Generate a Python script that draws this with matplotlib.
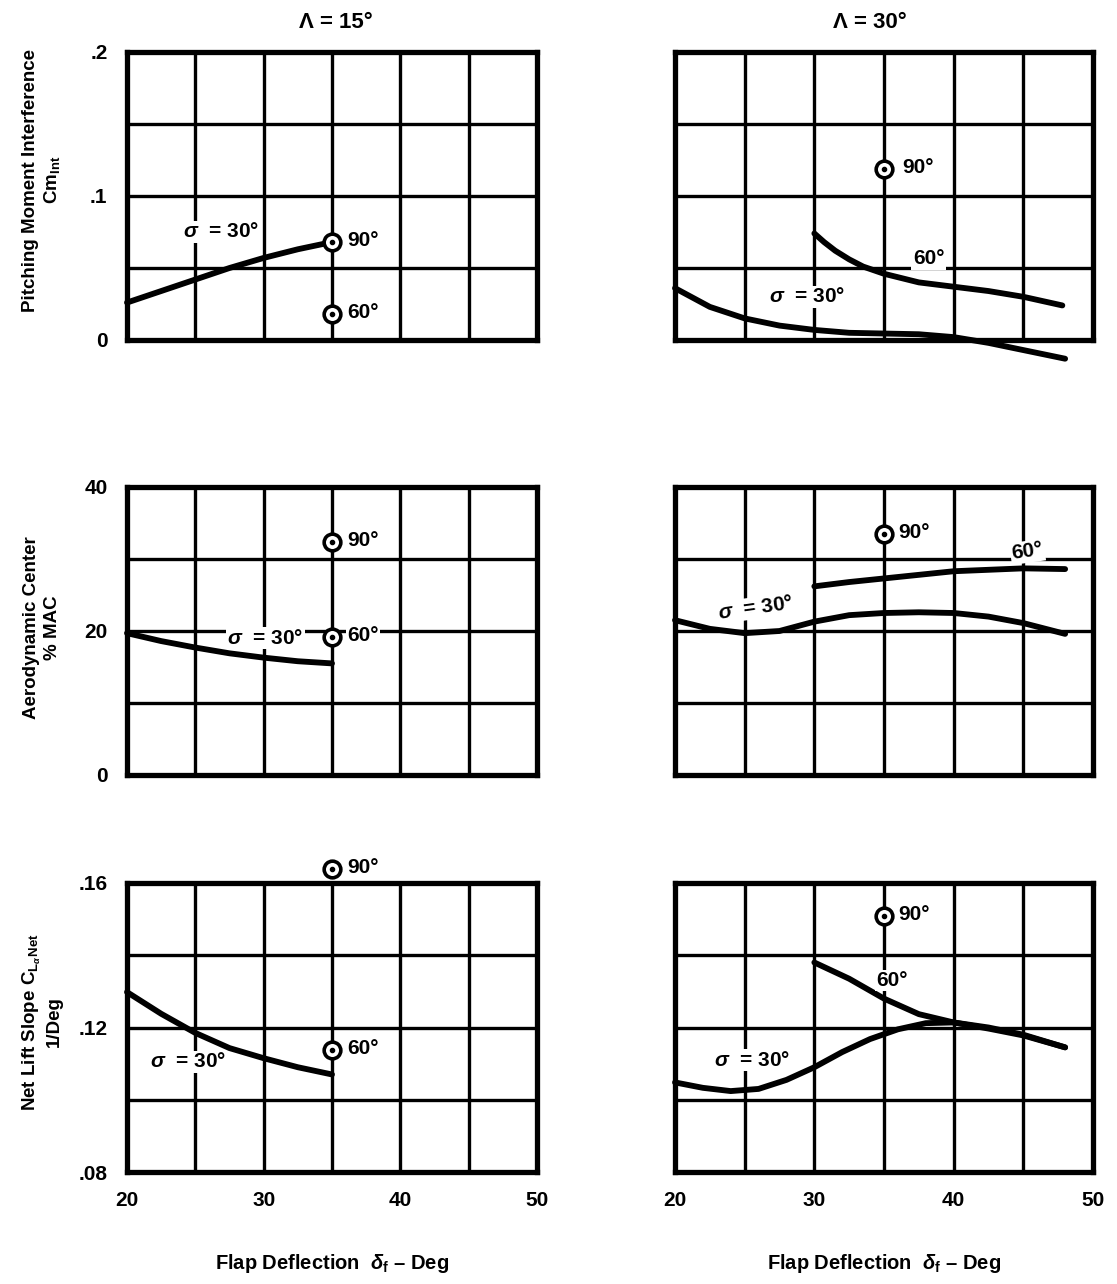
import matplotlib
matplotlib.use("Agg")
import matplotlib.pyplot as plt

plt.rcParams['font.family'] = ['Liberation Sans', 'DejaVu Sans']
plt.rcParams['font.weight'] = 'bold'
plt.rcParams['mathtext.fontset'] = 'custom'
plt.rcParams['mathtext.rm'] = 'Liberation Sans:bold'
plt.rcParams['mathtext.it'] = 'Liberation Sans:italic:bold'
plt.rcParams['mathtext.bf'] = 'Liberation Sans:bold'
plt.rcParams['mathtext.sf'] = 'Liberation Sans:bold'

# ---------------- data ----------------
x_ticks = [20, 25, 30, 35, 40, 45, 50]
x_tick_labels = ['20', '', '30', '', '40', '', '50']

cm_ticks = [0, 0.05, 0.10, 0.15, 0.20]
cm_tick_labels = ['0', '', '.1', '', '.2']
ac_ticks = [0, 10, 20, 30, 40]
ac_tick_labels = ['0', '', '20', '', '40']
cl_ticks = [0.08, 0.10, 0.12, 0.14, 0.16]
cl_tick_labels = ['.08', '', '.12', '', '.16']

# Lambda = 15 deg
cm15_s30_x = [20, 22.5, 25, 27.5, 30, 32.5, 35]
cm15_s30_y = [0.026, 0.034, 0.042, 0.050, 0.057, 0.063, 0.068]
cm15_pts_x = [35, 35]
cm15_pts_y = [0.068, 0.018]
cm15_pts_lab = ['90°', '60°']

ac15_s30_x = [20, 22.5, 25, 27.5, 30, 32.5, 35]
ac15_s30_y = [19.7, 18.6, 17.7, 16.9, 16.3, 15.8, 15.5]
ac15_pts_x = [35, 35]
ac15_pts_y = [32.4, 19.2]
ac15_pts_lab = ['90°', '60°']

cl15_s30_x = [20, 22.5, 25, 27.5, 30, 32.5, 35]
cl15_s30_y = [0.1298, 0.1238, 0.1185, 0.1143, 0.1115, 0.1090, 0.1070]
cl15_pts_x = [35, 35]
cl15_pts_y = [0.164, 0.1138]
cl15_pts_lab = ['90°', '60°']

# Lambda = 30 deg
cm30_s30_x = [20, 22.5, 25, 27.5, 30, 32.5, 35, 37.5, 40, 42.5, 45, 48]
cm30_s30_y = [0.036, 0.023, 0.015, 0.010, 0.007, 0.005, 0.0045, 0.004, 0.002, -0.002, -0.007, -0.013]
cm30_s60_x = [30, 30.7, 31.5, 32.5, 33.5, 35, 37.5, 40, 42.5, 45, 47.8]
cm30_s60_y = [0.074, 0.068, 0.062, 0.056, 0.051, 0.046, 0.040, 0.037, 0.034, 0.030, 0.024]
cm30_pts_x = [35]
cm30_pts_y = [0.119]
cm30_pts_lab = ['90°']

ac30_s30_x = [20, 22.5, 25, 27.5, 30, 32.5, 35, 37.5, 40, 42.5, 45, 48]
ac30_s30_y = [21.5, 20.3, 19.7, 20.0, 21.3, 22.2, 22.5, 22.6, 22.5, 22.0, 21.1, 19.6]
ac30_s60_x = [30, 32.5, 35, 37.5, 40, 42.5, 45, 48]
ac30_s60_y = [26.2, 26.8, 27.3, 27.8, 28.3, 28.5, 28.7, 28.6]
ac30_pts_x = [35]
ac30_pts_y = [33.5]
ac30_pts_lab = ['90°']

cl30_s30_x = [20, 22, 24, 26, 28, 30, 32, 34, 36, 38, 40, 42.5, 45, 48]
cl30_s30_y = [0.1048, 0.1033, 0.1024, 0.1030, 0.1055, 0.1090, 0.1132, 0.1168, 0.1195, 0.1212, 0.1214, 0.1200, 0.1180, 0.1145]
cl30_s60_x = [30, 32.5, 35, 37.5, 40, 42.5, 45, 48]
cl30_s60_y = [0.1380, 0.1335, 0.1280, 0.1237, 0.1214, 0.1197, 0.1178, 0.1145]
cl30_pts_x = [35]
cl30_pts_y = [0.151]
cl30_pts_lab = ['90°']

sigma_label = r'$\sigma$  = 30°'
lab60 = '60°'

# ---------------- figure ----------------
W, H = 1117, 1284
fig = plt.figure(figsize=(W / 100, H / 100), dpi=100)


def px_axes(x0, y0, x1, y1):
    return fig.add_axes([x0 / W, 1 - y1 / H, (x1 - x0) / W, (y1 - y0) / H])


FS = 15
LW_CURVE = 4.2
bbox = dict(facecolor='white', edgecolor='none', pad=1.0)


def style(ax, yticks, ylabels, ylim, left_labels, bottom_labels):
    ax.set_xlim(20, 50)
    ax.set_ylim(*ylim)
    ax.set_xticks(x_ticks)
    ax.set_yticks(yticks)
    ax.set_xticklabels(x_tick_labels if bottom_labels else [''] * len(x_ticks))
    ax.set_yticklabels(ylabels if left_labels else [''] * len(yticks))
    ax.tick_params(length=0, labelsize=FS, pad=14)
    ax.grid(True, color='black', linewidth=2.4)
    ax.set_axisbelow(True)
    for s in ax.spines.values():
        s.set_linewidth(3.8)
        s.set_color('black')
    for t in ax.get_xticklabels() + ax.get_yticklabels():
        t.set_fontweight('bold')


def curve(ax, x, y):
    ax.plot(x, y, color='black', lw=LW_CURVE, solid_capstyle='round',
            solid_joinstyle='round', zorder=4, clip_on=False)


def points(ax, xs, ys, labs, dx=11):
    for x, y, lab in zip(xs, ys, labs):
        ax.plot([x], [y], marker='o', ms=12, mfc='white', mec='black', mew=2.6,
                zorder=6, clip_on=False)
        ax.plot([x], [y], marker='o', ms=3.0, color='black', zorder=7, clip_on=False)
        ax.annotate(lab, xy=(x, y), xytext=(dx, 1), textcoords='offset points',
                    ha='left', va='center', fontsize=FS, fontweight='bold',
                    bbox=bbox, zorder=6, annotation_clip=False)


def label(ax, x, y, s, rot=0):
    ax.text(x, y, s, ha='center', va='center', fontsize=FS, fontweight='bold',
            bbox=bbox, zorder=5, rotation=rot)


LX0, LX1 = 127, 537
RX0, RX1 = 675, 1093
rows = [(52, 340), (487, 775), (883, 1172)]
XLABEL = r'Flap Deflection  $\delta_{\rm f}$ – Deg'

# Row 1 : pitching moment interference
ax = px_axes(LX0, rows[0][0], LX1, rows[0][1])
style(ax, cm_ticks, cm_tick_labels, (0, 0.2), True, False)
curve(ax, cm15_s30_x, cm15_s30_y)
points(ax, cm15_pts_x, cm15_pts_y, cm15_pts_lab)
label(ax, 26.9, 0.075, sigma_label)

ax = px_axes(RX0, rows[0][0], RX1, rows[0][1])
style(ax, cm_ticks, cm_tick_labels, (0, 0.2), False, False)
curve(ax, cm30_s30_x, cm30_s30_y)
curve(ax, cm30_s60_x, cm30_s60_y)
points(ax, cm30_pts_x, cm30_pts_y, cm30_pts_lab, dx=13)
label(ax, 29.5, 0.030, sigma_label)
label(ax, 38.2, 0.0565, lab60)

# Row 2 : aerodynamic center
ax = px_axes(LX0, rows[1][0], LX1, rows[1][1])
style(ax, ac_ticks, ac_tick_labels, (0, 40), True, False)
curve(ax, ac15_s30_x, ac15_s30_y)
points(ax, ac15_pts_x, ac15_pts_y, ac15_pts_lab)
label(ax, 30.1, 19.0, sigma_label)

ax = px_axes(RX0, rows[1][0], RX1, rows[1][1])
style(ax, ac_ticks, ac_tick_labels, (0, 40), False, False)
curve(ax, ac30_s30_x, ac30_s30_y)
curve(ax, ac30_s60_x, ac30_s60_y)
points(ax, ac30_pts_x, ac30_pts_y, ac30_pts_lab, dx=10)
label(ax, 25.8, 23.2, sigma_label, rot=8)
label(ax, 45.3, 31.0, lab60, rot=8)

# Row 3 : net lift slope
ax = px_axes(LX0, rows[2][0], LX1, rows[2][1])
style(ax, cl_ticks, cl_tick_labels, (0.08, 0.16), True, True)
curve(ax, cl15_s30_x, cl15_s30_y)
points(ax, cl15_pts_x, cl15_pts_y, cl15_pts_lab)
label(ax, 24.5, 0.1105, sigma_label)
ax.set_xlabel(XLABEL, fontsize=14.5, fontweight='bold', labelpad=30)

ax = px_axes(RX0, rows[2][0], RX1, rows[2][1])
style(ax, cl_ticks, cl_tick_labels, (0.08, 0.16), False, True)
curve(ax, cl30_s30_x, cl30_s30_y)
curve(ax, cl30_s60_x, cl30_s60_y)
points(ax, cl30_pts_x, cl30_pts_y, cl30_pts_lab, dx=10)
label(ax, 25.5, 0.1109, sigma_label)
label(ax, 35.6, 0.133, lab60)
ax.set_xlabel(XLABEL, fontsize=14.5, fontweight='bold', labelpad=30)

# column titles
fig.text(336 / W, 1 - 22 / H, 'Λ = 15°', ha='center', va='center', fontsize=16, fontweight='bold')
fig.text(870 / W, 1 - 22 / H, 'Λ = 30°', ha='center', va='center', fontsize=16, fontweight='bold')

# y labels
YFS = 13.5
fig.text(42 / W, 1 - 180 / H, 'Pitching Moment Interference\n' + r'Cm$_{\rm Int}$',
         rotation=90, ha='center', va='center', multialignment='center',
         fontsize=YFS, fontweight='bold', linespacing=1.25)
fig.text(42 / W, 1 - 628 / H, 'Aerodynamic Center\n% MAC',
         rotation=90, ha='center', va='center', multialignment='center',
         fontsize=YFS, fontweight='bold', linespacing=1.25)
fig.text(42 / W, 1 - 1022 / H, r'Net Lift Slope C$_{{\rm L}_\alpha}$$_{\rm Net}$' + '\n1/Deg',
         rotation=90, ha='center', va='center', multialignment='center',
         fontsize=YFS, fontweight='bold', linespacing=1.25)

fig.savefig('out.png', dpi=100, facecolor='white')
